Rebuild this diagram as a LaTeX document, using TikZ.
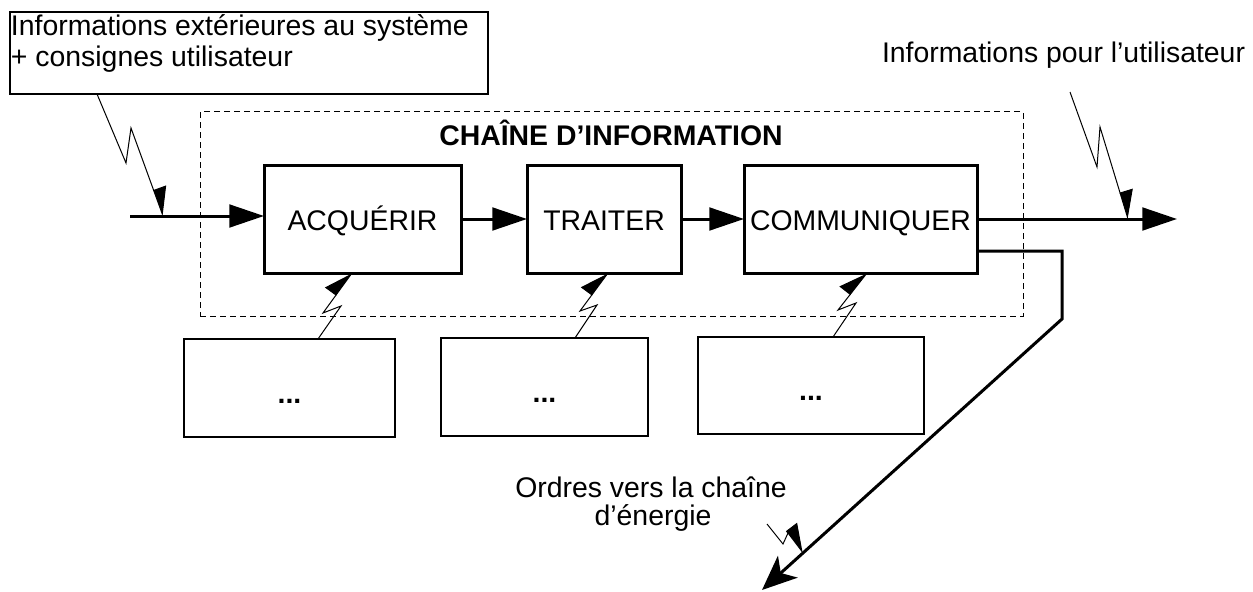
\documentclass[tikz,border=0pt]{standalone}
\usepackage{fontspec}
\setmainfont{Liberation Sans}
\usetikzlibrary{arrows.meta,calc}
\begin{document}
\begin{tikzpicture}[x=0.75pt,y=-0.75pt,
  every node/.style={font=\fontsize{21.3pt}{25pt}\selectfont, inner sep=0pt, outer sep=0pt},
  mainbox/.style={draw, line width=2.25pt, minimum height=81pt, text height=17.5pt, text depth=0pt},
  lowbox/.style={draw, line width=1.1pt, text height=22.5pt, text depth=0pt, font=\fontsize{21.3pt}{25pt}\selectfont\bfseries},
  flow/.style={line width=2.25pt, -{Triangle[length=26pt,width=17pt]}},
  bolt/.style={line width=0.75pt, -{Triangle[harpoon,length=20pt,width=20pt]}},
  ordre/.style={line width=2.25pt, -{Stealth[length=26pt,width=22pt,inset=7pt]}},
]
\useasboundingbox (0,0) rectangle (1253,592);

% container
\node[draw, line width=0.75pt, dash pattern=on 4.5pt off 3pt, minimum width=617.25pt, minimum height=153pt] (chain) at (611.5,214) {};
\node[anchor=base, font=\fontsize{21.3pt}{25pt}\selectfont\bfseries] (title) at (611,146) {CHAÎNE D’INFORMATION};

% top-left input box
\node[draw, line width=0.9pt, minimum width=358.5pt, minimum height=61.5pt] (tlbox) at (249,53) {};
\node[anchor=base west] (tl1) at (11,36) {Informations extérieures au système};
\node[anchor=base west] (tl2) at (11,67) {+ consignes utilisateur};

% output text
\node[anchor=base west] (outtxt) at (882,63) {Informations pour l’utilisateur};

% main boxes
\node[mainbox, minimum width=147.75pt] (acq) at (362.5,219) {ACQUÉRIR};
\node[mainbox, minimum width=115.5pt] (trait) at (604,219) {TRAITER};
\node[mainbox, minimum width=174.75pt] (comm) at (860.5,219) {COMMUNIQUER};

% lower boxes
\node[lowbox, minimum width=158.25pt, minimum height=73.5pt] (low1) at (289.5,388) {...};
\node[lowbox, minimum width=155.25pt, minimum height=73.5pt] (low2) at (544.5,387) {...};
\node[lowbox, minimum width=169.5pt, minimum height=72.75pt] (low3) at (811,385.5) {...};

% orders text
\node[anchor=base] (ord1) at (651,497) {Ordres vers la chaîne};
\node[anchor=base] (ord2) at (653,525) {d’énergie};

% coordinates
\coordinate (inStart) at (130,216);
\coordinate (outEnd) at (1177,219);
\coordinate (ordEnd) at (762,590);
\coordinate (bendB) at (1062,319);
\coordinate (outBolt) at (1070,92);
\coordinate (ordBolt) at (767,524);

% main flow
\draw[flow] (inStart) -- (inStart -| acq.west);
\draw[flow] (acq) -- (trait);
\draw[flow] (trait) -- (comm);
\draw[flow] (comm) -- (outEnd);
\draw[ordre] ($(comm.east)+(2,32)$) -- (bendB |- 0,251) -- (bendB) -- (ordEnd);

% lightning connectors
\draw[bolt] ($(tlbox.south west)+(87,0)$) -- (126,163) -- (131,128) -- ($(inStart)+(33,0)$);
\draw[bolt] (outBolt) -- (1097,167) -- (1100,127) -- ($(outEnd)+(-49,0)$);
\draw[bolt] ($(low1.north)+(28.5,0)$) -- (341,306) -- (323,313) -- ($(acq.south)+(-10.5,0)$);
\draw[bolt] ($(low2.north)+(30.5,0)$) -- (597,305) -- (580,311) -- ($(trait.south)+(4,0)$);
\draw[bolt] ($(low3.north)+(22,0)$) -- (856,303) -- (838,310) -- ($(comm.south)+(6.5,0)$);
\draw[bolt] (ordBolt) -- (783,544) -- (788,533) -- ($(ordEnd)!0.137!(bendB)$);
\end{tikzpicture}
\end{document}
